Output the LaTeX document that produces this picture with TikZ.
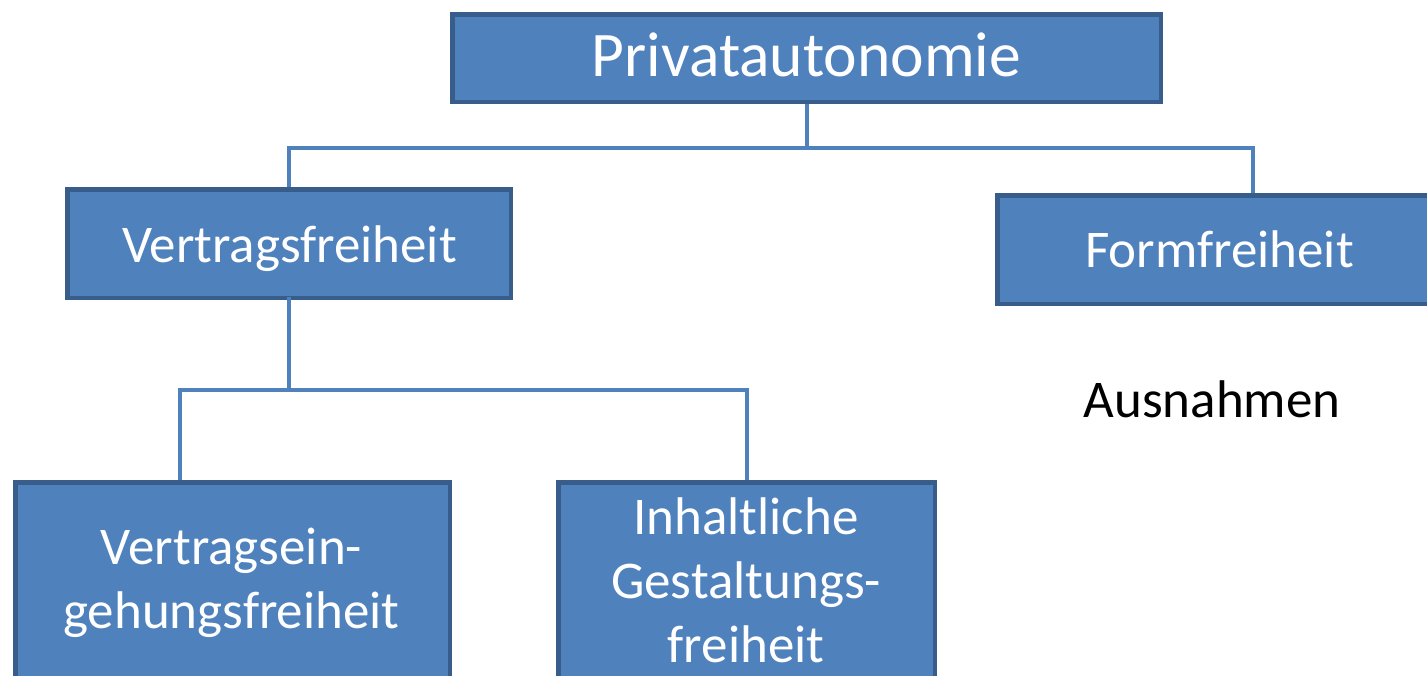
\documentclass[tikz,border=0pt]{standalone}
\usepackage{fontspec}
\setmainfont{Carlito}
\usetikzlibrary{calc}
\definecolor{boxfill}{HTML}{4F81BD}
\definecolor{boxedge}{HTML}{385D8A}
\definecolor{linkcol}{HTML}{4F81BD}
\tikzset{
  orgbox/.style={draw=boxedge, fill=boxfill, line width=4.5pt, rectangle, inner sep=0pt},
  boxtext/.style={text=white, align=center, inner sep=0pt, anchor=base,
    font=\fontsize{53}{64}\selectfont},
  toptext/.style={boxtext, font=\fontsize{63.5}{76}\selectfont},
  link/.style={draw=linkcol, line width=4pt}
}
\begin{document}
\begin{tikzpicture}[x=1pt,y=-1pt]
\useasboundingbox (0,0) rectangle (1427,675);

% boxes
\node[orgbox, minimum width=708.5pt, minimum height=87.5pt] (pa) at (806.5,58) {};
\node[orgbox, minimum width=443.5pt, minimum height=108.5pt] (vf) at (289,243.5) {};
\node[orgbox, minimum width=445.5pt, minimum height=108.5pt] (ff) at (1220,249.5) {};
\node[orgbox, minimum width=434.5pt, minimum height=255.5pt] (ve) at (232.5,610) {};
\node[orgbox, minimum width=376.5pt, minimum height=255.5pt] (ig) at (746.5,610) {};

% texts (base anchor sits on the last line)
\node[toptext] (pa-t) at (806.5,76) {Privatautonomie};
\node[boxtext] (vf-t) at (289.5,262) {Vertragsfreiheit};
\node[boxtext] (ff-t) at (1219.5,267) {Formfreiheit};
\node[boxtext, text=black] (aus) at (1212,417) {Ausnahmen};
\node[boxtext] (ve-t) at (231.5,628) {Vertragsein-\\gehungsfreiheit};
\node[boxtext] (ig-t) at (746,662) {Inhaltliche\\Gestaltungs-\\freiheit};

% connectors
\coordinate (j1) at (806.5,148);
\coordinate (j2) at (289,390);
\draw[link] (pa.south) -- (j1) -| (vf.north);
\draw[link] (j1) -| ([xshift=33pt]ff.north);
\draw[link] ([yshift=3pt]vf.south) -- (j2) -| ([xshift=-52.5pt]ve.north);
\draw[link] (j2) -| (ig.north);
\end{tikzpicture}
\end{document}
